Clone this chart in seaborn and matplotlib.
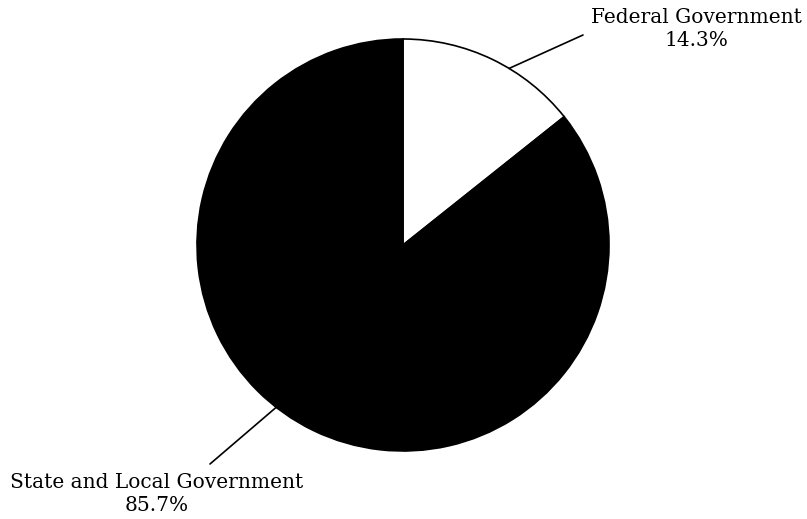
import numpy as np
import matplotlib
matplotlib.use("Agg")
import matplotlib.pyplot as plt
import seaborn as sns

# Share of spending by level of government
categories = ["Federal Government", "State and Local Government"]
shares = [14.3, 85.7]
colors = ["white", "black"]

sns.set_theme(style="white")
plt.rcParams["font.family"] = ["DejaVu Serif"]

W, H = 807, 519
fig = plt.figure(figsize=(W / 100, H / 100), dpi=100)
ax = fig.add_axes([0, 0, 1, 1])

# pixel layout: pie centre and radius
cx, cy, r = 403, 245, 206

wedges, _ = ax.pie(shares, colors=colors, startangle=90, counterclock=False,
                   radius=1.0,
                   wedgeprops=dict(edgecolor="black", linewidth=1.2))

def px(x, y):
    """pixel position -> data coordinates (pie radius = 1)"""
    return (x - cx) / r, (cy - y) / r

x0, y0 = px(0, H)
x1, y1 = px(W, 0)
ax.set_xlim(x0, x1)
ax.set_ylim(y0, y1)
ax.set_aspect("equal")
ax.axis("off")

# leader lines start on the rim at these angles (degrees)
anchor_angles = [59, 232]
line_ends = [px(583, 35), px(210, 464)]
label_pos = [px(696, 29), px(157, 494)]

for name, val, ang, end, lp in zip(categories, shares, anchor_angles, line_ends, label_pos):
    a = np.deg2rad(ang)
    sx, sy = np.cos(a), np.sin(a)
    ax.plot([sx, end[0]], [sy, end[1]], color="black", lw=1.2)
    ax.text(lp[0], lp[1], f"{name}\n{val:.1f}%", ha="center", va="center",
            fontsize=14.5, color="black", linespacing=1.3)

fig.savefig("out.png", dpi=100, facecolor="white")
